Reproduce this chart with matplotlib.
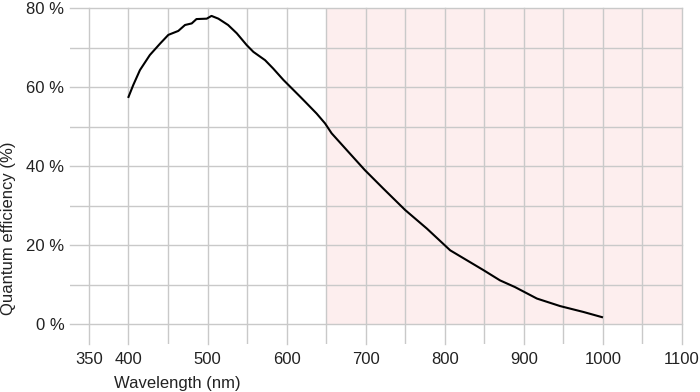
import matplotlib
matplotlib.use('Agg')
import matplotlib.pyplot as plt

# DATA
wavelength = [400, 406, 414.5, 427, 440, 450.4, 463, 471.5, 480, 486, 499, 505,
              513.7, 526, 537, 549.6, 558, 572.8, 583, 596, 617, 623.4, 638, 648.7,
              657, 680, 699, 722.5, 750, 777.5, 807, 828, 849, 870, 889, 916.7,
              946, 975.7, 999]
qe = [57.5, 60.5, 64.3, 68.1, 71.0, 73.2, 74.2, 75.7, 76.1, 77.2, 77.3, 78.0,
      77.3, 75.7, 73.6, 70.6, 68.9, 66.8, 64.7, 61.8, 57.6, 56.3, 53.3, 50.8,
      48.3, 43.2, 39.0, 34.3, 28.9, 24.2, 18.7, 16.2, 13.7, 11.1, 9.4, 6.5,
      4.6, 3.1, 1.8]

x_labels = [350, 400, 500, 600, 700, 800, 900, 1000, 1100]
x_minor = [450, 550, 650, 750, 850, 950, 1050]
y_labels = [0, 20, 40, 60, 80]
y_minor = [10, 30, 50, 70]
ir_band = (650, 1100)

plt.rcParams['font.family'] = ['Liberation Sans', 'DejaVu Sans']

fig = plt.figure(figsize=(7, 3.92), dpi=100)
ax = fig.add_axes([0.1, 0.1224, 0.874, 0.8572])

# shaded region
ax.fill_between(list(ir_band), 0, 80, color='#fdeeee', zorder=0, linewidth=0)

ax.set_xlim(326, 1100)
ax.set_ylim(-5, 80)
ax.set_xticks(x_labels)
ax.set_xticks(x_minor, minor=True)
ax.set_yticks(y_labels)
ax.set_yticks(y_minor, minor=True)
ax.set_yticklabels([f'{v} %' for v in y_labels])

ax.grid(True, which='both', color='#c9c9c9', linewidth=1.0, zorder=1)
ax.set_axisbelow(True)
for ln in ax.get_xgridlines() + ax.get_ygridlines():
    ln.set_clip_on(False)

for s in ax.spines.values():
    s.set_visible(False)
ax.tick_params(which='both', length=0)
ax.tick_params(axis='x', pad=6, labelsize=12, colors='#222222')
ax.tick_params(axis='y', pad=4, labelsize=12, colors='#222222')

ax.plot(wavelength, qe, color='black', linewidth=1.5, zorder=3)

# labels are off-centre in the original
ax.set_xlabel('Wavelength (nm)', fontsize=12, color='#222222', labelpad=4)
ax.xaxis.set_label_coords(0.176, -0.095)
ax.set_ylabel('Quantum efficiency (%)', fontsize=12, color='#222222', labelpad=6)
ax.yaxis.set_label_coords(-0.089, 0.345)

fig.savefig('out.png', dpi=100)
